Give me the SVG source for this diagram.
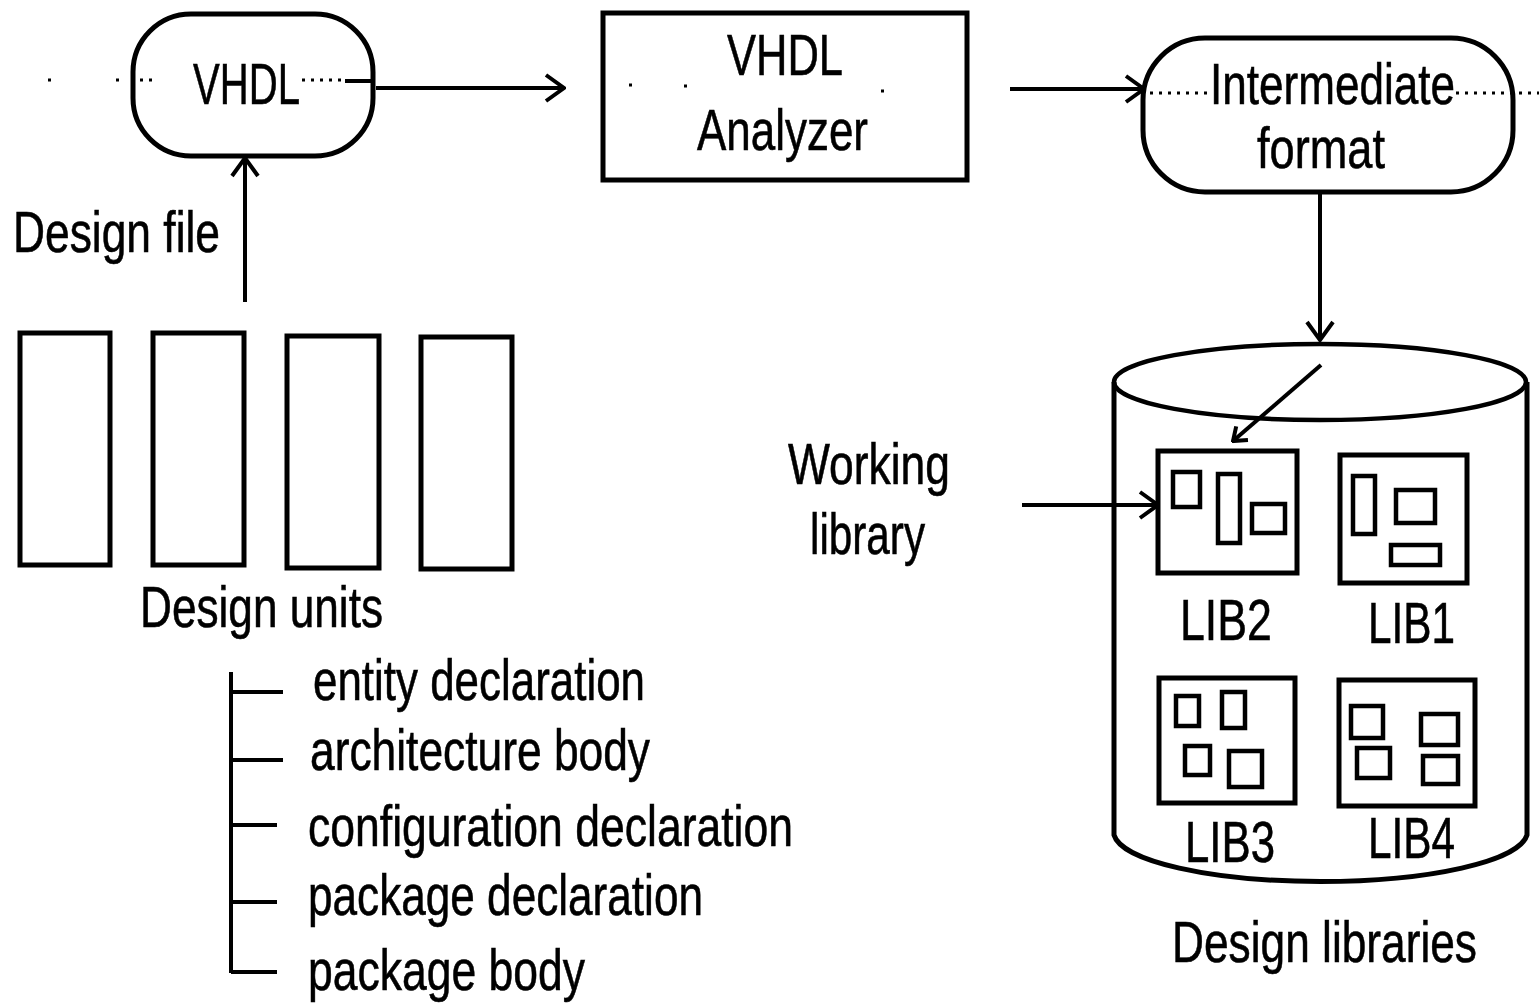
<svg xmlns="http://www.w3.org/2000/svg" width="1539" height="1004" viewBox="0 0 1539 1004">
  <defs>
    <style>
      .shape { fill: #fff; stroke: #000; stroke-width: 5; }
      .thin { fill: none; stroke: #000; stroke-width: 4.5; }
      .line { fill: none; stroke: #000; stroke-width: 4; }
      .dots { fill: none; stroke: #000; stroke-width: 3; stroke-dasharray: 3 6; }
      .lbl { font-family: "Liberation Sans", Arial, sans-serif; font-size: 58px; fill: #000; stroke: #000; stroke-width: 0.6; }
    </style>
    <marker id="vhead" viewBox="0 0 22 30" refX="20" refY="15" markerWidth="22" markerHeight="30" markerUnits="userSpaceOnUse" orient="auto">
      <path d="M2,2 L20,15 L2,28" fill="none" stroke="#000" stroke-width="4"/>
    </marker>
    <marker id="shead" viewBox="0 0 16 22" refX="14" refY="11" markerWidth="16" markerHeight="22" markerUnits="userSpaceOnUse" orient="auto">
      <path d="M2,2 L14,11 L2,20" fill="none" stroke="#000" stroke-width="4"/>
    </marker>
  </defs>

  <rect width="1539" height="1004" fill="#fff"/>

  <!-- design file source -->
  <g id="vhdl-source">
    <rect class="shape" x="133" y="14" width="240" height="142" rx="58" ry="58"/>
    <text class="lbl" x="193" y="104" textLength="107" lengthAdjust="spacingAndGlyphs">VHDL</text>
    <path class="dots" d="M48,80 h4 M116,80 h4 M140,80 h16 M302,80 h44"/>
    <path class="line" d="M345,81 H373" stroke-width="3"/>
  </g>

  <g id="design-file-label">
    <text class="lbl" x="13" y="252" textLength="207" lengthAdjust="spacingAndGlyphs">Design file</text>
  </g>

  <!-- analyzer -->
  <g id="analyzer">
    <rect class="shape" x="603" y="13" width="364" height="167"/>
    <text class="lbl" x="727" y="75" textLength="116" lengthAdjust="spacingAndGlyphs">VHDL</text>
    <text class="lbl" x="697" y="150" textLength="171" lengthAdjust="spacingAndGlyphs">Analyzer</text>
    <path class="dots" d="M629,85 h3 M684,86 h3 M881,91 h3"/>
  </g>

  <!-- intermediate format -->
  <g id="intermediate-format">
    <rect class="shape" x="1143" y="38" width="370" height="154" rx="62" ry="62"/>
    <path class="dots" d="M1150,93 H1212 M1456,93 H1539"/>
    <text class="lbl" x="1210" y="104" textLength="245" lengthAdjust="spacingAndGlyphs">Intermediate</text>
    <text class="lbl" x="1257" y="168" textLength="128" lengthAdjust="spacingAndGlyphs">format</text>
  </g>

  <!-- design units -->
  <g id="design-units">
    <rect class="shape" x="20" y="333" width="90" height="232"/>
    <rect class="shape" x="153" y="333" width="91" height="232"/>
    <rect class="shape" x="287" y="336" width="92" height="232"/>
    <rect class="shape" x="421" y="337" width="91" height="232"/>
    <text class="lbl" x="140" y="627" textLength="243" lengthAdjust="spacingAndGlyphs">Design units</text>
  </g>

  <!-- design unit kinds -->
  <g id="unit-kinds">
    <path class="line" d="M231,672 V973 M231,692 H283 M231,760 H283 M231,825 H277 M231,902 H277 M231,972 H277"/>
    <text class="lbl" x="313" y="700" textLength="332" lengthAdjust="spacingAndGlyphs">entity declaration</text>
    <text class="lbl" x="310" y="770" textLength="340" lengthAdjust="spacingAndGlyphs">architecture body</text>
    <text class="lbl" x="308" y="846" textLength="485" lengthAdjust="spacingAndGlyphs">configuration declaration</text>
    <text class="lbl" x="308" y="915" textLength="395" lengthAdjust="spacingAndGlyphs">package declaration</text>
    <text class="lbl" x="308" y="990" textLength="277" lengthAdjust="spacingAndGlyphs">package body</text>
  </g>

  <!-- working library label -->
  <g id="working-library">
    <text class="lbl" x="788" y="484" textLength="162" lengthAdjust="spacingAndGlyphs">Working</text>
    <text class="lbl" x="810" y="554" textLength="115" lengthAdjust="spacingAndGlyphs">library</text>
  </g>

  <!-- design libraries cylinder -->
  <g id="design-libraries">
    <path class="shape" d="M1114,382 V835 A207,50 0 0 0 1527,835 V382"/>
    <ellipse class="thin" cx="1320" cy="382" rx="206" ry="38"/>
    <text class="lbl" x="1172" y="962" textLength="305" lengthAdjust="spacingAndGlyphs">Design libraries</text>
  </g>

  <g id="lib2">
    <rect class="shape" x="1158" y="451" width="139" height="122"/>
    <rect class="thin" x="1173" y="472" width="27" height="35"/>
    <rect class="thin" x="1218" y="474" width="22" height="69"/>
    <rect class="thin" x="1252" y="504" width="33" height="29"/>
    <text class="lbl" x="1180" y="640" textLength="92" lengthAdjust="spacingAndGlyphs">LIB2</text>
  </g>

  <g id="lib1">
    <rect class="shape" x="1340" y="455" width="127" height="128"/>
    <rect class="thin" x="1353" y="476" width="22" height="58"/>
    <rect class="thin" x="1396" y="490" width="39" height="33"/>
    <rect class="thin" x="1391" y="545" width="49" height="20"/>
    <text class="lbl" x="1368" y="643" textLength="87" lengthAdjust="spacingAndGlyphs">LIB1</text>
  </g>

  <g id="lib3">
    <rect class="shape" x="1159" y="678" width="136" height="125"/>
    <rect class="thin" x="1176" y="696" width="23" height="30"/>
    <rect class="thin" x="1222" y="692" width="23" height="36"/>
    <rect class="thin" x="1185" y="746" width="25" height="29"/>
    <rect class="thin" x="1229" y="751" width="33" height="36"/>
    <text class="lbl" x="1185" y="862" textLength="90" lengthAdjust="spacingAndGlyphs">LIB3</text>
  </g>

  <g id="lib4">
    <rect class="shape" x="1339" y="680" width="136" height="126"/>
    <rect class="thin" x="1351" y="706" width="32" height="32"/>
    <rect class="thin" x="1421" y="714" width="37" height="31"/>
    <rect class="thin" x="1357" y="748" width="33" height="30"/>
    <rect class="thin" x="1423" y="756" width="35" height="28"/>
    <text class="lbl" x="1368" y="858" textLength="87" lengthAdjust="spacingAndGlyphs">LIB4</text>
  </g>

  <!-- connectors -->
  <g id="connectors">
    <path class="line" d="M376,88 H564" marker-end="url(#vhead)"/>
    <path class="line" d="M245,302 V158" marker-end="url(#vhead)"/>
    <path class="line" d="M1010,89 H1144" marker-end="url(#vhead)"/>
    <path class="line" d="M1320,194 V340" marker-end="url(#vhead)"/>
    <path class="line" d="M1321,365 L1233,441" marker-end="url(#shead)"/>
    <path class="line" d="M1022,505 H1158" marker-end="url(#vhead)"/>
  </g>
</svg>
